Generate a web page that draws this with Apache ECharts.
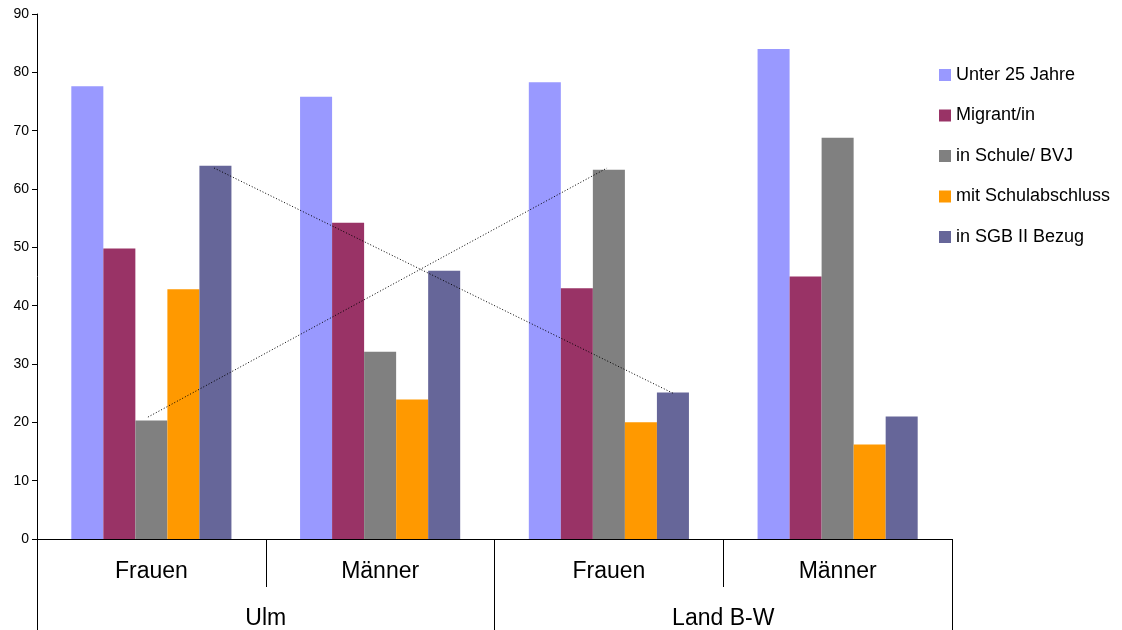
<!DOCTYPE html>
<html>
<head>
<meta charset="utf-8">
<script src="https://cdn.jsdelivr.net/npm/echarts@6/dist/echarts.min.js"></script>
<style>
  html, body { margin: 0; padding: 0; background: #fff; }
  #chart { width: 1122px; height: 630px; }
</style>
</head>
<body>
<div id="chart"></div>
<script>
// Subgroups (lower axis row) and regions (second axis row)
const groups = ['Frauen', 'Männer', 'Frauen', 'Männer'];
const regions = ['Ulm', 'Land B-W'];

// Percent values per indicator, one entry per subgroup
const unter25 = [77.6, 75.8, 78.3, 84.0];
const migrant = [49.8, 54.2, 43.0, 45.0];
const schule = [20.3, 32.1, 63.3, 68.8];
const abschluss = [42.8, 23.9, 20.0, 16.2];
const sgb = [64.0, 46.0, 25.1, 21.0];

const seriesNames = ['Unter 25 Jahre', 'Migrant/in', 'in Schule/ BVJ', 'mit Schulabschluss', 'in SGB II Bezug'];
const seriesColors = ['#9999FF', '#993366', '#808080', '#FF9900', '#666699'];

// Dotted comparison lines: [position along the 0..4 group scale, value]
const schuleLine = [[0.485, 20.9], [2.492, 63.6]];
const sgbLine = [[0.774, 63.6], [2.78, 25.0]];

const yTicks = { min: 0, max: 90, interval: 10 };

const font = 'Liberation Sans, Arial, sans-serif';
const chart = echarts.init(document.getElementById('chart'), null, { renderer: 'canvas' });

const barData = [unter25, migrant, schule, abschluss, sgb];
const bars = barData.map((d, i) => ({
  name: seriesNames[i],
  type: 'bar',
  xAxisIndex: 0,
  yAxisIndex: 0,
  data: d,
  barGap: '0%',
  barCategoryGap: '30%',
  itemStyle: { color: seriesColors[i] },
  emphasis: { disabled: true },
  animation: false
}));

const dotted = (data) => ({
  type: 'line',
  xAxisIndex: 2,
  yAxisIndex: 0,
  data: data,
  symbol: 'none',
  silent: true,
  lineStyle: { color: '#000', width: 1, type: [1, 2] },
  animation: false,
  z: 5
});

chart.setOption({
  backgroundColor: '#ffffff',
  animation: false,
  textStyle: { fontFamily: font },
  grid: { left: 37, right: 170, top: 14, bottom: 91, containLabel: false },
  legend: {
    orient: 'vertical',
    left: 939,
    top: 66,
    padding: 0,
    icon: 'rect',
    itemWidth: 12,
    itemHeight: 12,
    itemGap: 22.5,
    data: seriesNames,
    textStyle: { fontFamily: font, fontSize: 18, color: '#000' },
    selectedMode: false
  },
  xAxis: [
    {
      type: 'category',
      data: groups,
      position: 'bottom',
      axisLine: { show: true, lineStyle: { color: '#000', width: 1 } },
      axisTick: { show: true, interval: 0, length: 48, lineStyle: { color: '#000' } },
      axisLabel: { interval: 0, fontSize: 23, color: '#000', margin: 21, fontFamily: font }
    },
    {
      type: 'category',
      data: regions,
      position: 'bottom',
      offset: 48,
      axisLine: { show: false },
      axisTick: { show: true, interval: 0, length: 43, lineStyle: { color: '#000' } },
      axisLabel: { interval: 0, fontSize: 23, color: '#000', margin: 20, fontFamily: font }
    },
    {
      type: 'value',
      min: 0,
      max: 4,
      show: false
    }
  ],
  yAxis: [{
    type: 'value',
    min: yTicks.min,
    max: yTicks.max,
    interval: yTicks.interval,
    splitLine: { show: false },
    axisLine: { show: true, lineStyle: { color: '#000', width: 1 } },
    axisTick: { show: true, length: 5, lineStyle: { color: '#000' } },
    axisLabel: { fontSize: 14, color: '#000', margin: 8, fontFamily: font }
  }],
  series: bars.concat([dotted(schuleLine), dotted(sgbLine)])
});
</script>
</body>
</html>
